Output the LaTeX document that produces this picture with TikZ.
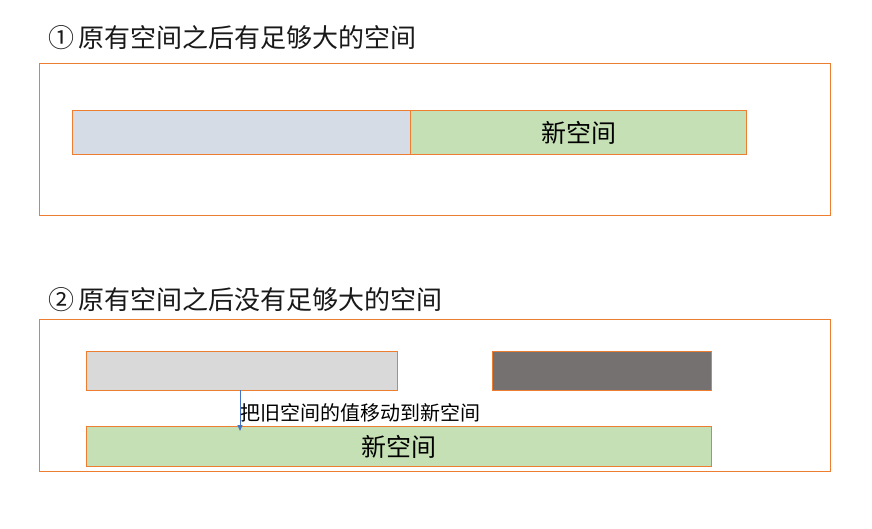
\documentclass[tikz,border=0pt]{standalone}
\usepackage{fontspec}
\setmainfont{Noto Sans CJK SC}
\usetikzlibrary{arrows.meta}
\definecolor{FrameOrange}{HTML}{ED7D31}
\definecolor{OldBlue}{HTML}{D6DCE5}
\definecolor{NewGreen}{HTML}{C5E0B4}
\definecolor{OldGray}{HTML}{D9D9D9}
\definecolor{UsedGray}{HTML}{767171}
\definecolor{MoveBlue}{HTML}{4472C4}
\newcommand{\drawframe}{\node[draw=FrameOrange,line width=1pt,anchor=north west,inner sep=0]}
\newcommand{\drawblock}{\node[draw=FrameOrange,line width=1pt,anchor=north west,inner sep=0,font=\fontsize{25}{27}\selectfont]}
\newcommand{\drawtitle}{\node[anchor=west,inner sep=0,font=\fontsize{26}{28}\selectfont,text=black!90]}

\begin{document}
\begin{tikzpicture}[x=1pt,y=-1pt]
\useasboundingbox (0,0) rectangle (872,528);
%case one: enough room after the old space
\drawtitle (t1) at (48,38) {①\,原有空间之后有足够大的空间};
\drawframe[minimum width=791pt,minimum height=152pt] (f1) at (39,63) {};
\drawblock[fill=OldBlue,minimum width=338pt,minimum height=44pt] (old1) at (72,110) {};
\drawblock[fill=NewGreen,minimum width=336pt,minimum height=44pt] (new1) at (410,110) {新空间};

%case two: not enough room, move to new space
\drawtitle (t2) at (48,300) {②\,原有空间之后没有足够大的空间};
\drawframe[minimum width=791pt,minimum height=152pt] (f2) at (39,319) {};
\drawblock[fill=OldGray,minimum width=311pt,minimum height=39pt] (old2) at (86,351) {};
\drawblock[fill=UsedGray,minimum width=219pt,minimum height=39pt] (used) at (492,351) {};
\drawblock[fill=NewGreen,minimum width=625pt,minimum height=40pt] (new2) at (86,426) {新空间};

\coordinate (mvs) at (240,390);
\coordinate (mve) at (240,431);
\draw[MoveBlue,line width=1pt,-{Triangle[length=6pt,width=5pt]}] (mvs) to (mve);
\node[anchor=west,inner sep=1pt,font=\fontsize{20}{22}\selectfont] (mvl) at (239,413) {把旧空间的值移动到新空间};

\end{tikzpicture}
\end{document}
